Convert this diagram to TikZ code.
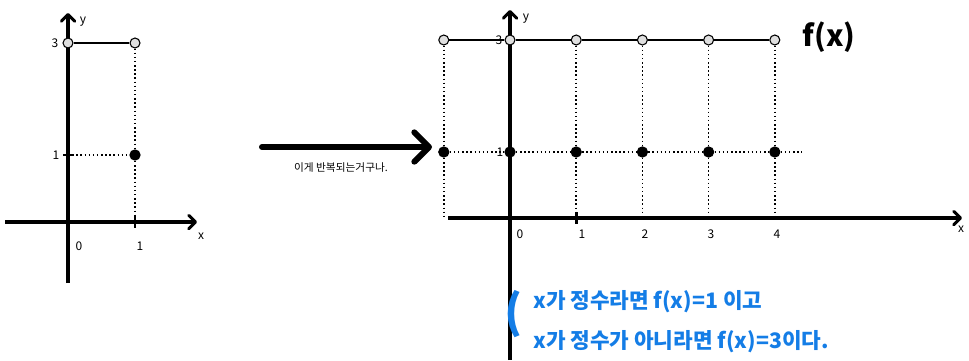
\documentclass[tikz,border=0pt]{standalone}
\usepackage{fontspec}
\setmainfont{Noto Sans CJK KR}
\usepackage{xcolor}
\usetikzlibrary{arrows.meta, positioning, calc}
\definecolor{notecol}{RGB}{20,125,230}

\begin{document}
\begin{tikzpicture}[
    x=0.75pt, y=-0.75pt,
    axis/.style={line width=2.3pt, -{Straight Barb[length=5pt, width=10pt, round]}},
    bigarrow/.style={line width=4.5pt, line cap=round, -{Straight Barb[length=11pt, width=22pt, round]}},
    opendot/.style={circle, draw, line width=0.8pt, fill=gray!25, inner sep=0pt, minimum size=7.5pt},
    fulldot/.style={circle, fill=black, inner sep=0pt, minimum size=8.5pt},
    guide/.style={dotted, line width=1.1pt},
    curve/.style={line width=0.9pt},
    lbl/.style={font=\fontsize{9}{9}\selectfont},
    note/.style={text=notecol, anchor=base west, inner sep=0pt, text height=13pt, text depth=3pt,
      font=\bfseries\fontsize{16}{16}\selectfont}
  ]
  \useasboundingbox (0,0) rectangle (969,360);

  % Left graph
  \coordinate (lxs) at (5,222);
  \coordinate (lxe) at (197,222);
  \coordinate (lys) at (68,283);
  \coordinate (lye) at (68,13);
  \coordinate (lone) at (68,155);
  \coordinate (lfoot) at (135,222);
  \draw[axis] (lxs) -- (lxe);
  \draw[axis] (lys) -- (lye);
  \draw[line width=2pt] (135,216) -- (135,228);
  \draw[line width=1.5pt] (63,155) -- (73,155);
  \node[opendot] (la) at (68,43) {};
  \node[opendot] (lb) at (135,43) {};
  \node[fulldot] (lc) at (135,155) {};
  \draw[curve] (la) -- (lb);
  \draw[guide] (lb) -- (lc);
  \draw[guide] (lc) -- (lfoot);
  \draw[guide] (lone) -- (lc);
  \node[lbl] at (55,43) {3};
  \node[lbl] at (56,155) {1};
  \node[lbl] at (79,246) {0};
  \node[lbl] at (140,246) {1};
  \node[lbl] at (201,236) {x};
  \node[lbl] at (83,22) {y};

  % Arrow between graphs
  \coordinate (as) at (262,147);
  \coordinate (ae) at (432,147);
  \draw[bigarrow] (as) -- (ae);
  \node[font=\fontsize{8}{8}\selectfont] (say) at (341,168) {이게 반복되는거구나.};

  % Right graph
  \coordinate (rxs) at (448,218);
  \coordinate (rxe) at (962,218);
  \coordinate (rys) at (510,360);
  \coordinate (rye) at (510,10);
  \coordinate (rend) at (802,152);
  \draw[axis] (rxs) -- (rxe);
  \draw[axis] (rys) -- (rye);
  \draw[line width=2pt] (576.2,212) -- (576.2,224);
  \foreach \i in {0,...,5} {
    \node[opendot] (o\i) at ({443.8+66.2*\i},40) {};
    \node[fulldot] (f\i) at ({443.8+66.2*\i},152) {};
    \coordinate (b\i) at ({443.8+66.2*\i},218);
  }
  \foreach \i [evaluate=\i as \j using int(\i+1)] in {0,...,4} {
    \draw[curve] (o\i) -- (o\j);
    \draw[guide] (f\i) -- (f\j);
  }
  \draw[guide] (f5) -- (rend);
  \foreach \i in {0,2,3,4,5} {
    \draw[guide] (o\i) -- (f\i);
    \draw[guide] (f\i) -- (b\i);
  }
  \node[lbl] at (499,40) {3};
  \node[lbl] at (500,152) {1};
  \node[lbl] at (526,19) {y};
  \node[lbl] at (520,234) {0};
  \node[lbl] at (582,234) {1};
  \node[lbl] at (645,234) {2};
  \node[lbl] at (711,234) {3};
  \node[lbl] at (777,234) {4};
  \node[lbl] at (961,229) {x};
  \node[font=\bfseries\fontsize{22}{22}\selectfont, anchor=west] (fx) at (798,37) {f(x)};

  % Note
  \node[text=notecol, inner sep=0pt, font=\bfseries\fontsize{34}{34}\selectfont] (brace) at (514,314) {(};
  \node[note] (line1) at (533,308) {x가 정수라면 f(x)=1 이고};
  \node[note] (line2) at (533,348) {x가 정수가 아니라면 f(x)=3이다.};
\end{tikzpicture}
\end{document}
